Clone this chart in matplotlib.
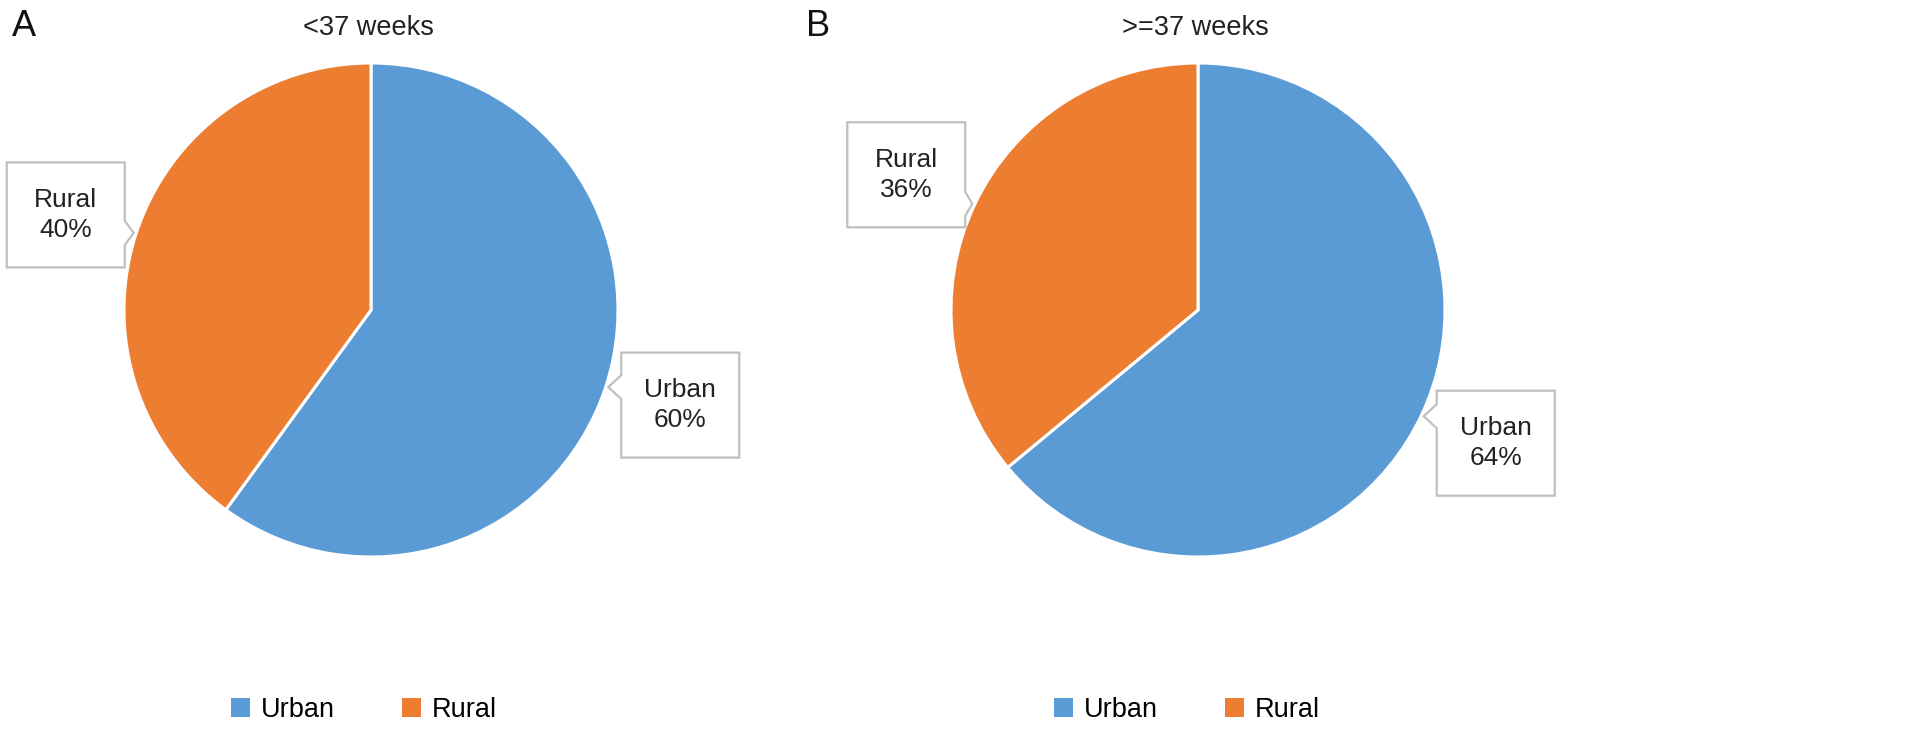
import numpy as np
import matplotlib
matplotlib.use('Agg')
import matplotlib.pyplot as plt
from matplotlib.patches import Polygon, Patch

plt.rcParams['font.family'] = ['Liberation Sans', 'DejaVu Sans']

# data
categories = ['Urban', 'Rural']
preterm = [60, 40]      # <37 weeks
term = [64, 36]         # >=37 weeks
panel_titles = ['<37 weeks', '>=37 weeks']
panel_letters = ['A', 'B']
colors = ['#5B9BD5', '#ED7D31']

W, H = 1913, 752
fig = plt.figure(figsize=(W / 100, H / 100), dpi=100)

R_PX = 247
centers = [(371, 310), (1198, 310)]          # pie centres in pixels (y down)
letter_x = [12, 806]
legend_shift = [-7, -11]
# callout box centre offset from pointer tip (pixels, y down)
box_offsets = [[(72, 18), (-68, -18)], [(72, 27), (-66, -29)]]
BOX_W, BOX_H = 118, 105
TIP_R = 1.01

overlay = fig.add_axes([0, 0, 1, 1], zorder=5)
overlay.set_xlim(0, W)
overlay.set_ylim(H, 0)
overlay.axis('off')

for k, values in enumerate([preterm, term]):
    cx, cy = centers[k]
    ax = fig.add_axes([(cx - R_PX) / W, (H - cy - R_PX) / H, 2 * R_PX / W, 2 * R_PX / H])
    wedges, _ = ax.pie(values, colors=colors, startangle=90, counterclock=False,
                       wedgeprops=dict(edgecolor='white', linewidth=2.2))
    ax.set_xlim(-1, 1)
    ax.set_ylim(-1, 1)
    ax.set_aspect('equal')
    ax.axis('off')

    handles = [Patch(facecolor=c, edgecolor='none') for c in colors]
    ax.legend(handles, categories, loc='center',
              bbox_to_anchor=(0.5 + legend_shift[k] / (2 * R_PX), -0.31),
              ncol=2, frameon=False, fontsize=19.5, handlelength=0.69,
              handleheight=0.69, handletextpad=0.4, columnspacing=2.5)

    fig.text(cx - 3, H - 28, panel_titles[k], transform=None, ha='center',
             va='center', fontsize=19.5, color='#222222')
    fig.text(letter_x[k], H - 27, panel_letters[k], transform=None, ha='left',
             va='center', fontsize=26, color='#111111')

    # callouts
    for i, w in enumerate(wedges):
        mid = np.deg2rad((w.theta1 + w.theta2) / 2)
        tx = cx + R_PX * TIP_R * np.cos(mid)
        ty = cy - R_PX * TIP_R * np.sin(mid)
        ox, oy = box_offsets[k][i]
        bx, by = tx + ox, ty + oy
        x0, x1 = bx - BOX_W / 2, bx + BOX_W / 2
        y0, y1 = by - BOX_H / 2, by + BOX_H / 2
        n0, n1 = ty - 12, ty + 12
        if ox > 0:   # box to the right, notch on left edge
            pts = [(x0, y0), (x1, y0), (x1, y1), (x0, y1), (x0, n1), (tx, ty), (x0, n0)]
        else:        # box to the left, notch on right edge
            pts = [(x0, y0), (x1, y0), (x1, n0), (tx, ty), (x1, n1), (x1, y1), (x0, y1)]
        overlay.add_patch(Polygon(pts, closed=True, facecolor='white',
                                  edgecolor='#BFBFBF', linewidth=1.6))
        overlay.text(bx, by, f'{categories[i]}\n{values[i]}%', ha='center', va='center',
                     fontsize=19, linespacing=1.3, color='#222222')

fig.savefig('out.png', dpi=100, facecolor='white')
